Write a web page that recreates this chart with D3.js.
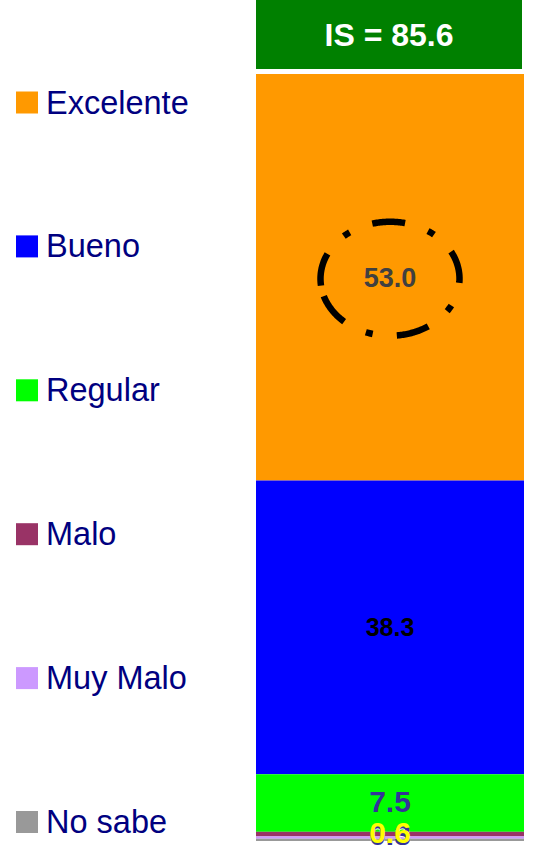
<!DOCTYPE html>
<html>
<head>
<meta charset="utf-8">
<script src="https://cdn.jsdelivr.net/npm/d3@7"></script>
<style>
  html, body { margin: 0; padding: 0; background: #ffffff; }
  svg { display: block; }
</style>
</head>
<body>
<svg id="chart" width="540" height="854"></svg>
<script>
// Rating categories, share of answers (%) and colours
const categories = ["Excelente", "Bueno", "Regular", "Malo", "Muy Malo", "No sabe"];
const values = [53.0, 38.3, 7.5, 0.6, 0.3, 0.3];
const colors = ["#FF9900", "#0000FF", "#00FF00", "#993366", "#CC99FF", "#999999"];
const labelColors = ["#404040", "#000000", "#333399", "#FFFF00", "#333399", "#FFFFFF"];
const labelSizes = [27, 25, 30, 30, 30, 30];
const groups = ["Total"];
const indexLabel = "IS = 85.6";

const svg = d3.select("#chart");
const font = "'Liberation Sans', Arial, Helvetica, sans-serif";

// Scales
const x = d3.scaleBand().domain(groups).range([256, 524]).padding(0);
const y = d3.scaleLinear().domain([0, 100]).range([841, 74]);

// Stack the categories from the top of the bar downwards
let acc = 100;
const segs = categories.map((c, i) => {
  const upper = acc;
  acc -= values[i];
  return { cat: c, value: values[i], y0: acc, y1: upper, i };
});

svg.append("g")
  .selectAll("rect")
  .data(segs)
  .join("rect")
  .attr("x", x("Total"))
  .attr("width", x.bandwidth())
  .attr("y", d => y(d.y1))
  .attr("height", d => y(d.y0) - y(d.y1))
  .attr("fill", d => colors[d.i]);

// Header box with the satisfaction index
svg.append("rect")
  .attr("x", x("Total"))
  .attr("y", 0)
  .attr("width", x.bandwidth() - 2)
  .attr("height", 69)
  .attr("fill", "#008000");
svg.append("text")
  .attr("x", x("Total") + x.bandwidth() / 2 - 1)
  .attr("y", 45.5)
  .attr("text-anchor", "middle")
  .attr("font-family", font)
  .attr("font-weight", "bold")
  .attr("font-size", 32)
  .attr("fill", "#FFFFFF")
  .text(indexLabel);

// Dash-dot ellipse highlighting the top category, traced clockwise from the left side
const first = segs[0];
const ecx = x("Total") + x.bandwidth() / 2;
const ecy = (y(first.y0) + y(first.y1)) / 2 + 1.5;
const erx = 69.5, ery = 57;
const t0 = Math.PI - 0.12;
const ellipsePts = d3.range(0, 361).map(k => {
  const t = t0 + (k / 360) * 2 * Math.PI;
  return [ecx + erx * Math.cos(t), ecy + ery * Math.sin(t)];
});
const ring = svg.append("path")
  .attr("d", d3.line()(ellipsePts))
  .attr("fill", "none")
  .attr("stroke", "#000000")
  .attr("stroke-width", 6.5)
  .attr("stroke-linecap", "butt");
const perim = ring.node().getTotalLength();
const dashLen = 33, dotLen = 7, seam = 11;
const gapLen = (perim - 5 * dashLen - 4 * dotLen - seam) / 8;
const pattern = [];
for (let k = 0; k < 4; k++) pattern.push(dashLen, gapLen, dotLen, gapLen);
pattern.push(dashLen, seam);
ring.attr("stroke-dasharray", pattern.map(v => v.toFixed(2)).join(","));

// Value labels (drawn from the smallest segment up so larger ones sit on top)
const labelOffsets = [0, 0, -2, -1.5, -3, -5];
svg.append("g")
  .selectAll("text")
  .data(segs.slice().reverse())
  .join("text")
  .attr("x", x("Total") + x.bandwidth() / 2)
  .attr("y", d => (y(d.y0) + y(d.y1)) / 2 + labelOffsets[d.i])
  .attr("dy", "0.36em")
  .attr("text-anchor", "middle")
  .attr("font-family", font)
  .attr("font-weight", "bold")
  .attr("font-size", d => labelSizes[d.i])
  .attr("fill", d => labelColors[d.i])
  .text(d => d.value.toFixed(1));

// Legend
const legendY = d3.scalePoint().domain(categories).range([102.5, 822]);
const legend = svg.append("g")
  .selectAll("g")
  .data(categories)
  .join("g")
  .attr("transform", d => `translate(0,${legendY(d)})`);
legend.append("rect")
  .attr("x", 16)
  .attr("y", -11)
  .attr("width", 22)
  .attr("height", 22)
  .attr("fill", (d, i) => colors[i]);
legend.append("text")
  .attr("x", 46)
  .attr("y", 11)
  .attr("font-family", font)
  .attr("font-size", 32.5)
  .attr("fill", "#000080")
  .text(d => d);
</script>
</body>
</html>
